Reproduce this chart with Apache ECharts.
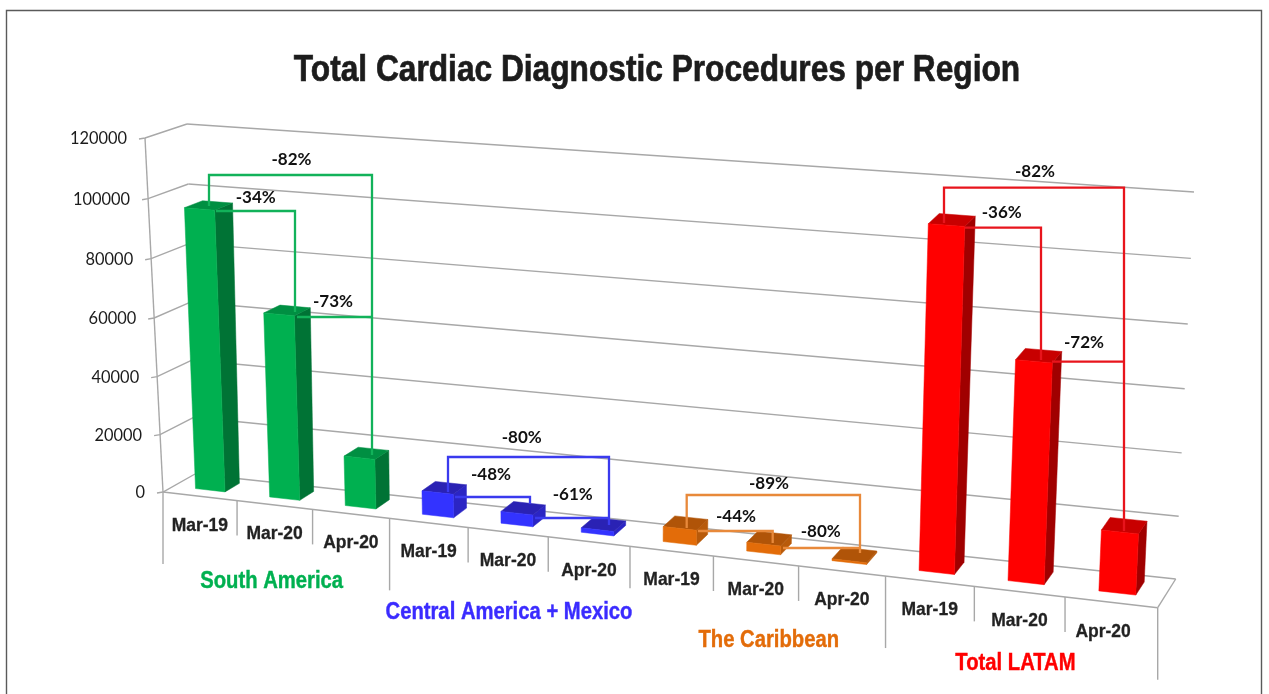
<!DOCTYPE html>
<html><head><meta charset="utf-8">
<style>html,body{margin:0;padding:0;background:#fff}#c{width:1269px;height:694px}</style>
<script src="https://cdn.jsdelivr.net/npm/echarts@6/dist/echarts.min.js"></script>
</head><body><div id="c"></div>
<script>
// ---- data ----
const chartTitle = 'Total Cardiac Diagnostic Procedures per Region';
const months = ['Mar-19','Mar-20','Apr-20'];
const regions = ['South America','Central America + Mexico','The Caribbean','Total LATAM'];
const southAmerica = [96000,63000,17000];
const centralAmerica = [8000,4000,1500];
const caribbean = [5000,2900,600];
const totalLatam = [109600,70000,19400];
const tickValues = [0,20000,40000,60000,80000,100000,120000];
const changesSouth = ['-34%','-73%','-82%'];
const changesCentral = ['-48%','-61%','-80%'];
const changesCaribbean = ['-44%','-80%','-89%'];
const changesLatam = ['-36%','-72%','-82%'];

// ---- styling & layout ----
const palette = [
 {front:'#00B050',top:'#008F42',side:'#007335',line:'#12B25A',label:'#00B050'},
 {front:'#3333FF',top:'#2A22B4',side:'#2B25C4',line:'#3A3AEE',label:'#3A2BFF'},
 {front:'#E36C09',top:'#B05408',side:'#B85A0A',line:'#E8893A',label:'#E36C09'},
 {front:'#FF0000',top:'#C80000',side:'#A00000',line:'#E8141C',label:'#FF0000'}
];
const NARROW = '"Liberation Sans",Arial,sans-serif';
const G = {left:163,top:138,width:995,height:354};
// perspective cage of the chart, used to project grid space on the page
const FL0=[163,492],FR0=[1157.7,607.7],BL0=[195,474],BR0=[1175.7,579],
      FL1=[145,138],FR1=[1176,216],BL1=[187,124],BR1=[1194,192];
const warpU = u => u/(1+0.13*(1-u));
const warpV = v => v/(1+0.0346*(1-v));
const mix=(a,b,t)=>[a[0]+(b[0]-a[0])*t,a[1]+(b[1]-a[1])*t];
function project(api,x,val,d){
  const c=api.coord([x,val]);
  const U=warpU((c[0]-G.left)/G.width), V=warpV((G.top+G.height-c[1])/G.height);
  const f=mix(mix(FL0,FR0,U),mix(FL1,FR1,U),V);
  const b=mix(mix(BL0,BR0,U),mix(BL1,BR1,U),V);
  return mix(f,b,d);
}
const GRID='#A8A8A8';
const gl=(pts,w)=>({type:'polyline',shape:{points:pts},style:{stroke:GRID,lineWidth:w||1.4,fill:null},silent:true});

const wallData = tickValues.map(v=>[v]);
const barData=[]; [southAmerica,centralAmerica,caribbean,totalLatam].forEach((arr,r)=>arr.forEach((v,i)=>barData.push([r*3+i,v,r])));
const catData=[]; regions.forEach((_,r)=>months.forEach((m,i)=>catData.push([r*3+i,m])));
const dividerData=[...Array(13).keys()].map(i=>[i]);
const regionData=regions.map((n,r)=>[r*3+1.5,n,r]);
const regionOffset=[[-3,77],[1,81],[13,80],[-4,72]];

// annotation brackets on the page: [region, polyline points]
const brackets=[
 [0,[[209,206],[209,175],[372,175],[372,455]]],
 [0,[[216,211],[295,211],[295,312]]],
 [0,[[297,317],[372,317]]],
 [1,[[448,492],[448,457],[609,457],[609,525]]],
 [1,[[455,497],[530,497],[530,504]]],
 [1,[[535,518],[609,518]]],
 [2,[[686.7,528],[686.7,495],[860,495],[860,553]]],
 [2,[[698,531],[772.7,531],[772.7,543]]],
 [2,[[783,548],[860,548]]],
 [3,[[944,223],[944,187.7],[1124,187.7],[1124,531]]],
 [3,[[965,227.7],[1041,227.7],[1041,360]]],
 [3,[[1052,361.7],[1124,361.7]]]
];
const changeSpots=[
 [changesSouth,[[255.7,198],[333,302],[291.5,160]]],
 [changesCentral,[[491,475],[572.7,495],[521.7,438]]],
 [changesCaribbean,[[736,517],[820.7,532],[769,484]]],
 [changesLatam,[[1001.7,213],[1084,343],[1035,171.7]]]
];

const graphic=[
 {type:'polyline',shape:{points:[[6.5,694],[6.5,10.5],[1261.5,10.5],[1261.5,694]]},style:{stroke:'#5A5A5A',lineWidth:1.4,fill:null},silent:true,z:1},
 {type:'text',x:657,y:70.5,scaleX:0.856,silent:true,z:60,style:{text:chartTitle,font:'bold 37px '+NARROW,fill:'#1c1c1c',stroke:'#1c1c1c',lineWidth:0.7,textAlign:'center',textVerticalAlign:'middle'}}
];
brackets.forEach(b=>graphic.push({type:'polyline',shape:{points:b[1]},style:{stroke:palette[b[0]].line,lineWidth:2.3,fill:null},silent:true,z:50}));
changeSpots.forEach(s=>s[0].forEach((t,i)=>graphic.push({type:'text',x:s[1][i][0],y:s[1][i][1],z:51,silent:true,
  style:{text:t,font:'bold 17px Lato,"Open Sans",sans-serif',fill:'#111',textAlign:'center',textVerticalAlign:'middle'}})));

const chart=echarts.init(document.getElementById('c'),null,{renderer:'canvas'});
chart.setOption({
 animation:false,backgroundColor:'#fff',
 grid:{left:G.left,top:G.top,width:G.width,height:G.height},
 xAxis:{type:'value',min:0,max:12,show:false},
 yAxis:{type:'value',min:0,max:120000,interval:20000,show:false},
 graphic:graphic,
 series:[
 {type:'custom',name:'walls',coordinateSystem:'cartesian2d',z:2,silent:true,data:wallData,encode:{x:[],y:0},
  renderItem(p,api){
    const v=api.value(0);
    const a=project(api,0,v,0),b=project(api,0,v,1),c=project(api,12,v,1);
    const kids=[gl([[a[0]-6,a[1]+1],a,b]),gl([b,c]),
      {type:'text',style:{text:String(v),x:a[0]-18,y:a[1]+1,textAlign:'right',textVerticalAlign:'middle',
        font:'16.4px Lato,"Open Sans",sans-serif',fill:'#1c1c1c'}}];
    if(v===0){const r=project(api,12,0,0);kids.push(gl([a,r]),gl([r,c]));}
    return {type:'group',children:kids};
  }},
 {type:'custom',name:'axis edge',coordinateSystem:'cartesian2d',z:2,silent:true,data:[[0]],encode:{x:0},
  renderItem(p,api){return gl([project(api,0,120000,0),project(api,0,0,0)]);}},
 {type:'custom',name:'dividers',coordinateSystem:'cartesian2d',z:2,silent:true,data:dividerData,encode:{x:0},
  renderItem(p,api){
    const i=api.value(0),a=project(api,i,0,0);
    const len=i===6?42:(i%3===0?72:35);
    return gl([a,[a[0],a[1]+len]]);
  }},
 {type:'custom',name:'bars',coordinateSystem:'cartesian2d',z:5,data:barData,encode:{x:0,y:1},
  renderItem(p,api){
    const i=api.value(0),v=api.value(1),col=palette[api.value(2)];
    const u0=i+0.3,u1=i+0.7,d0=0.33,d1=0.79;
    const P=(u,w,d)=>project(api,u,w,d);
    const poly=(pts,fill)=>({type:'polygon',shape:{points:pts},style:{fill:fill,stroke:fill,lineWidth:0.5}});
    return {type:'group',children:[
      poly([P(u1,0,d0),P(u1,0,d1),P(u1,v,d1),P(u1,v,d0)],col.side),
      poly([P(u0,v,d0),P(u1,v,d0),P(u1,v,d1),P(u0,v,d1)],col.top),
      poly([P(u0,0,d0),P(u1,0,d0),P(u1,v,d0),P(u0,v,d0)],col.front)
    ]};
  }},
 {type:'custom',name:'months',coordinateSystem:'cartesian2d',z:6,silent:true,data:catData,encode:{x:0},
  renderItem(p,api){
    const i=api.value(0),a=project(api,i+0.5,0,0);
    return {type:'text',x:a[0]-(i===11?8:0),y:a[1]+29,scaleX:0.92,style:{text:catData[p.dataIndex][1],textAlign:'center',textVerticalAlign:'middle',
      font:'bold 19px '+NARROW,fill:'#222',stroke:'#222',lineWidth:0.3}};
  }},
 {type:'custom',name:'regions',coordinateSystem:'cartesian2d',z:6,silent:true,data:regionData,encode:{x:0},
  renderItem(p,api){
    const r=p.dataIndex,a=project(api,api.value(0),0,0),o=regionOffset[r];
    return {type:'text',x:a[0]+o[0],y:a[1]+o[1],scaleX:0.88,style:{text:regions[r],textAlign:'center',textVerticalAlign:'middle',
      font:'bold 23px '+NARROW,fill:palette[r].label,stroke:palette[r].label,lineWidth:0.4}};
  }}
 ]
});
</script></body></html>
